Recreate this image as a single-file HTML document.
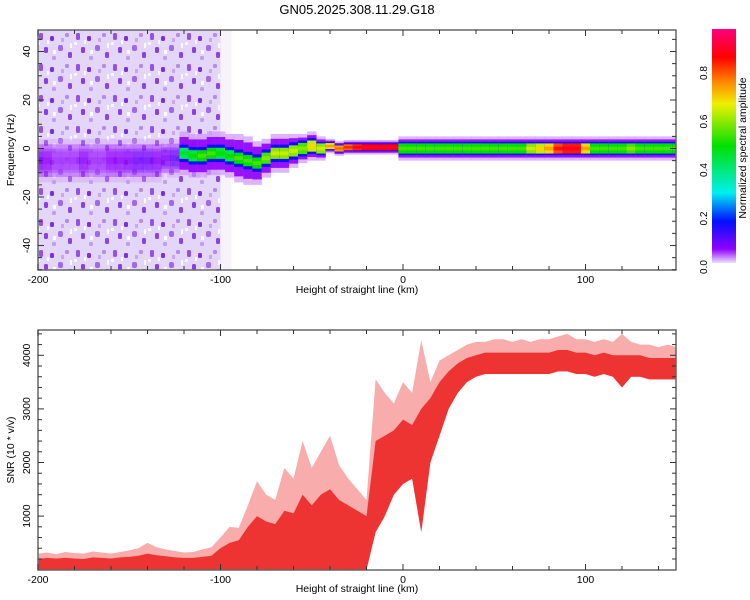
<!DOCTYPE html>
<html><head><meta charset="utf-8">
<style>
html,body{margin:0;padding:0;background:#fff;}
svg{display:block;font-family:"Liberation Sans",sans-serif;}
</style></head>
<body>
<svg id="chart" width="750" height="600" viewBox="0 0 750 600">
<defs>
<pattern id="speckle" x="0" y="0" width="37" height="31" patternUnits="userSpaceOnUse">
<rect width="37" height="31" fill="#e4d6f8"/>
<rect x="2" y="2" width="4" height="7" rx="1.5" fill="#9650ea"/>
<rect x="13" y="5" width="4" height="5" rx="1.5" fill="#7a30e0"/>
<rect x="21" y="14" width="5" height="6" rx="2" fill="#a068ec"/>
<rect x="7" y="16" width="4" height="6" rx="1.5" fill="#8840e6"/>
<rect x="28" y="2" width="4" height="4" rx="1.5" fill="#b48af0"/>
<rect x="31" y="21" width="4" height="6" rx="1.5" fill="#8a44e6"/>
<rect x="15" y="25" width="4" height="4" rx="1.5" fill="#c09cf2"/>
<rect x="24" y="7" width="3" height="4" fill="#c8a8f4"/>
<rect x="0" y="11" width="3" height="3" fill="#f8f4fe"/>
<rect x="16" y="19" width="3" height="4" fill="#fbf8ff"/>
<rect x="10" y="9" width="2" height="4" fill="#fbf8ff"/>
<rect x="33" y="12" width="2" height="5" fill="#fbf8ff"/>
</pattern>
<linearGradient id="cbar" x1="0" y1="1" x2="0" y2="0">
<stop offset="0" stop-color="#ece0fb"/><stop offset="0.06" stop-color="#9000ff"/>
<stop offset="0.18" stop-color="#0010ff"/><stop offset="0.30" stop-color="#00f0f0"/>
<stop offset="0.50" stop-color="#00e000"/><stop offset="0.68" stop-color="#f0f000"/>
<stop offset="0.78" stop-color="#ff8000"/><stop offset="0.88" stop-color="#ff0000"/>
<stop offset="1" stop-color="#ff0080"/>
</linearGradient>
<clipPath id="clipTop"><rect x="38" y="30" width="638" height="240"/></clipPath>
<clipPath id="clipBot"><rect x="38" y="330" width="638" height="240"/></clipPath>
</defs>
<text x="357" y="14" font-size="13" text-anchor="middle">GN05.2025.308.11.29.G18</text>
<g id="spec" clip-path="url(#clipTop)"></g>
<g id="snr" clip-path="url(#clipBot)"></g>
<g id="axes"></g>
<rect x="712" y="29" width="24" height="234" fill="url(#cbar)"/>
<text transform="translate(746,148) rotate(-90)" font-size="10.5" text-anchor="middle">Normalized spectral amplitude</text>
<text transform="translate(14,150) rotate(-90)" font-size="10.5" text-anchor="middle">Frequency (Hz)</text>
<text transform="translate(14,450) rotate(-90)" font-size="10.5" text-anchor="middle">SNR (10 * v/v)</text>
<text x="357" y="293" font-size="10.5" text-anchor="middle">Height of straight line (km)</text>
<text x="357" y="592" font-size="10.5" text-anchor="middle">Height of straight line (km)</text>
</svg>
<script>
const kmBins = [];
for (let k = -200; k <= 150; k += 5) kmBins.push(k);
const xTicks = [-200, -100, 0, 100];
const fTicks = [-40, -20, 0, 20, 40];
const snrTicks = [1000, 2000, 3000, 4000];
const cbTicks = [0.0, 0.2, 0.4, 0.6, 0.8];
// ridge of spectrogram per 5 km bin (-200..150)
const ridgeFreq = [-5,-5,-5,-5,-5,-5,-5,-5,-5,-5,-5,-5,-5,-5,-4,-4,-2,-3,-3,-2,-2,-3,-4,-5,-6,-4,-2,-2,-1,0,1,0,1,0,0.5,0.5,0.5,0.5,0.5,0.5,0,0,0,0,0,0,0,0,0,0,0,0,0,0,0,0,0,0,0,0,0,0,0,0,0,0,0,0,0,0,0];
const ridgeAmp = [0.16,0.12,0.1,0.1,0.1,0.12,0.1,0.1,0.12,0.12,0.14,0.18,0.18,0.14,0.14,0.2,0.42,0.45,0.5,0.5,0.45,0.45,0.5,0.5,0.5,0.55,0.6,0.6,0.6,0.55,0.65,0.6,0.7,0.75,0.8,0.85,0.88,0.88,0.88,0.88,0.5,0.5,0.5,0.5,0.5,0.5,0.5,0.5,0.5,0.5,0.5,0.5,0.5,0.5,0.6,0.65,0.7,0.82,0.86,0.86,0.7,0.5,0.5,0.5,0.5,0.55,0.5,0.5,0.5,0.5,0.5];
const ridgeSpread = [9,9,9,9,9,9,9,9,9,9,9,9,9,9,8,8,9,9,9,9,9,9,10,10,9,8,8,8,7,6,6,5,3,3,3,3,3,3,3,3,5,5,5,5,5,5,5,5,5,5,5,5,5,5,5,5,5,5,5,5,5,5,5,5,5,5,5,5,5,5,5];
// SNR envelope per 5 km bin
const snrMax = [300,320,290,330,310,300,340,320,300,330,360,400,500,420,380,350,320,330,380,420,600,800,780,1200,1650,1400,1300,1900,1700,2400,1900,2200,2500,1950,1700,1500,1300,3550,3300,3100,3500,3300,4280,3500,3900,4000,4100,4200,4250,4250,4300,4300,4250,4300,4250,4300,4300,4350,4400,4300,4300,4250,4300,4250,4400,4250,4200,4200,4150,4200,4150];
const snrHigh = [200,220,210,220,210,200,230,220,210,230,240,260,300,270,250,230,220,220,240,260,400,500,550,800,1000,900,850,1100,1050,1400,1200,1400,1500,1300,1200,1100,1000,2400,2500,2600,2800,2700,3000,3200,3500,3700,3850,3950,4000,4050,4050,4050,4050,4050,4050,4050,4050,4100,4100,4050,4050,4000,4050,4000,4000,4000,4000,3950,3950,3950,3950];
const snrLow = [0,0,0,0,0,0,0,0,0,0,0,0,0,0,0,0,0,0,0,0,0,0,0,0,0,0,0,0,0,0,0,0,0,0,0,0,0,700,1000,1400,1600,1700,700,2000,2500,3000,3300,3500,3600,3650,3650,3650,3650,3650,3650,3650,3650,3700,3700,3650,3650,3600,3650,3600,3400,3600,3600,3550,3550,3550,3550];

const NS = 'http://www.w3.org/2000/svg';
const X = k => 403 + (k) * 1.825;
const FY = f => 148.5 - f * 2.425;
const SY = v => 569.7 - v * 0.0536;
function mk(tag, attrs, parent) {
  const e = document.createElementNS(NS, tag);
  for (const a in attrs) e.setAttribute(a, attrs[a]);
  parent.appendChild(e); return e;
}
const stops = [[0,[236,224,251]],[0.06,[144,0,255]],[0.18,[0,16,255]],[0.30,[0,240,240]],[0.5,[0,224,0]],[0.68,[240,240,0]],[0.78,[255,128,0]],[0.88,[255,0,0]],[1,[255,0,128]]];
function cmap(v) {
  v = Math.max(0, Math.min(1, v));
  for (let i = 1; i < stops.length; i++) {
    if (v <= stops[i][0]) {
      const a = stops[i-1], b = stops[i], t = (v - a[0]) / (b[0] - a[0]);
      const c = a[1].map((x, j) => Math.round(x + (b[1][j] - x) * t));
      return `rgb(${c[0]},${c[1]},${c[2]})`;
    }
  }
  return 'rgb(255,0,128)';
}
const spec = document.getElementById('spec');
const bg = mk('rect', {x: X(-200), y: 30, width: X(-100) - X(-200), height: 240, fill: 'url(#speckle)'}, spec);


const fade = mk('rect', {x: X(-100), y: 30, width: X(-94) - X(-100), height: 240, fill: '#f4eefc', opacity: 0.7}, spec);


// [fraction of spread, max half-width Hz, colour fn, opacity]
const layers = [[1.0, 99, a => 0.02, 0.7], [0.75, 99, a => 0.06, 0.9], [0.55, 3.6, a => 0.17, 1], [0.42, 2.3, a => a, 1], [0.15, 0.8, a => Math.min(1, a + 0.05), 1]];
kmBins.forEach((k, i) => {
  const x0 = X(k - 2.5), w = X(k + 2.5) - x0 + 0.3;
  const f = ridgeFreq[i], s = ridgeSpread[i], a = ridgeAmp[i];
  layers.forEach(([frac, cap, colf, op]) => {
    let c = colf(a);
    let o = op;
    if (a < 0.3) { c = Math.min(c, a * 0.5); o = 0.35; }
    const h = Math.min(s * frac, a < 0.3 ? 99 : cap);
    const r = mk('rect', {x: x0, y: FY(f + h), width: w, height: FY(f - h) - FY(f + h), fill: cmap(c), opacity: o}, spec);
    
    
  });
});
// SNR
const snr = document.getElementById('snr');
function band(top, bot, fill, op, name) {
  let pts = kmBins.map((k, i) => `${X(k)},${SY(top[i])}`);
  pts = pts.concat(kmBins.slice().reverse().map((k, j) => { const i = kmBins.length - 1 - j; return `${X(k)},${SY(bot[i])}`; }));
  const p = mk('polygon', {points: pts.join(' '), fill: fill, opacity: op}, snr);
  
  
}
band(snrMax, snrLow, '#f04848', 0.45, 'snr-spike-band');
band(snrHigh, snrLow, '#ee3333', 1, 'snr-dense-band');
// axes
const ax = document.getElementById('axes');
function frame(y0, y1, name) {
  const r = mk('rect', {x: 38, y: y0, width: 638, height: y1 - y0, fill: 'none', stroke: '#666', 'stroke-width': 1.5}, ax);
  
  
  for (let k = -200; k <= 150; k += 20) {
    const major = xTicks.includes(k);
    const L = major ? 6 : 4;
    mk('line', {x1: X(k), x2: X(k), y1: y1, y2: y1 - L, stroke: '#333'}, ax);
    mk('line', {x1: X(k), x2: X(k), y1: y0, y2: y0 + L, stroke: '#333'}, ax);
  }
  xTicks.forEach(k => {
    const t = mk('text', {x: X(k), y: y1 + 13, 'font-size': 10.5, 'text-anchor': 'middle'}, ax);
    t.textContent = k;
    
    
  });
}
frame(30, 270, 'top-plot-frame');
frame(330, 570, 'bottom-plot-frame');
for (let f = -50; f <= 45; f += 5) {
  const L = fTicks.includes(f) ? 6 : 4;
  mk('line', {x1: 38, x2: 38 + L, y1: FY(f), y2: FY(f), stroke: '#333'}, ax);
  mk('line', {x1: 676, x2: 676 - L, y1: FY(f), y2: FY(f), stroke: '#333'}, ax);
}
fTicks.forEach(f => {
  const t = mk('text', {transform: `translate(30,${FY(f)}) rotate(-90)`, 'font-size': 10.5, 'text-anchor': 'middle'}, ax);
  t.textContent = f;
  
  
});
for (let v = 200; v <= 4400; v += 200) {
  const L = snrTicks.includes(v) ? 6 : 4;
  mk('line', {x1: 38, x2: 38 + L, y1: SY(v), y2: SY(v), stroke: '#333'}, ax);
  mk('line', {x1: 676, x2: 676 - L, y1: SY(v), y2: SY(v), stroke: '#333'}, ax);
}
snrTicks.forEach(v => {
  const t = mk('text', {transform: `translate(30,${SY(v)}) rotate(-90)`, 'font-size': 10.5, 'text-anchor': 'middle'}, ax);
  t.textContent = v;
  
  
});
cbTicks.forEach(v => {
  const y = 267 - v * 242.5;
  const t = mk('text', {transform: `translate(707,${y}) rotate(-90)`, 'font-size': 10, 'text-anchor': 'middle'}, ax);
  t.textContent = v.toFixed(1);
  
  
});
</script>
</body></html>
